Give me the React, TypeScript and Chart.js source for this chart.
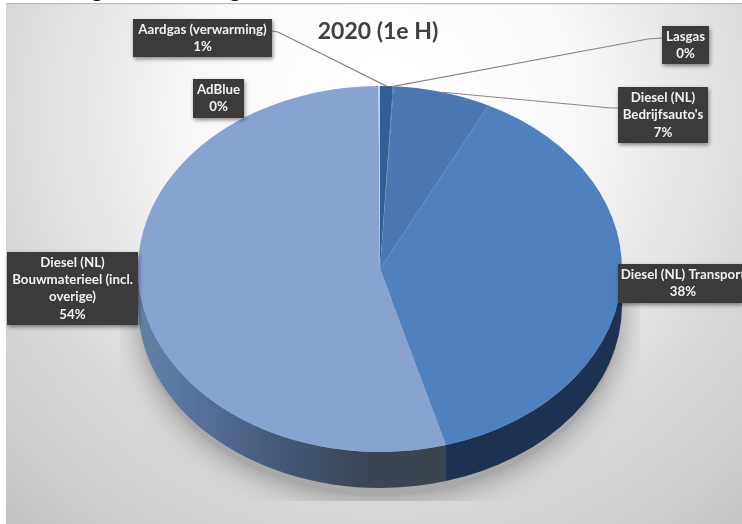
import React, { useEffect, useRef } from "react";
import { Chart, registerables } from "chart.js";

Chart.register(...registerables);

const chartTitle = "2020 (1e H)";
const categories = [
  "Aardgas (verwarming)",
  "Lasgas",
  "Diesel (NL) Bedrijfsauto's",
  "Diesel (NL) Transport",
  "Diesel (NL) Bouwmaterieel (incl. overige)",
  "AdBlue",
];
const values = [0.85, 0.05, 6.5, 38.2, 54.3, 0.1];
const labelLines = [
  ["Aardgas (verwarming)"],
  ["Lasgas"],
  ["Diesel (NL)", "Bedrijfsauto's"],
  ["Diesel (NL) Transport"],
  ["Diesel (NL)", "Bouwmaterieel (incl.", "overige)"],
  ["AdBlue"],
];
const topColors = ["#2F5F96", "#2F5F96", "#4A78B3", "#4F81BE", "#87A3D1", "#BCD0E8"];
const sideColors = ["#1C324F", "#1C324F", "#1C324F", "#1C3250", "#3A4450", "#3A4450"];

// label box layout
const labelBoxes = [
  { x: 133, y: 19, w: 139, h: 38, elbow: [278, 32], from: [272, 31] },
  { x: 662, y: 26, w: 47, h: 38, elbow: [648, 39], from: [662, 38] },
  { x: 618, y: 87, w: 90, h: 56, elbow: [611, 108], from: [618, 108] },
  { x: 618, y: 264, w: 124, h: 39, textCx: 683 },
  { x: 7, y: 252, w: 131, h: 73 },
  { x: 193, y: 79, w: 51, h: 39 },
];

const FLATTEN = 0.756;
const DEPTH = 36;
const LABEL_FONT = "bold 13.3px Lato";

const scenePlugin = {
  id: "scene",
  beforeDraw(chart: any) {
    const { ctx, width, height } = chart;
    ctx.save();
    ctx.fillStyle = "#ffffff";
    ctx.fillRect(0, 0, width, height);
    const g = ctx.createRadialGradient(385, 110, 40, 385, 110, 600);
    g.addColorStop(0, "#ffffff");
    g.addColorStop(0.28, "#f8f8f8");
    g.addColorStop(0.62, "#d8d8d8");
    g.addColorStop(0.8, "#cecece");
    g.addColorStop(1, "#bcbcbc");
    ctx.fillStyle = g;
    ctx.fillRect(6, 4, width - 6, height - 4);
    ctx.fillStyle = "#bdbdbd";
    ctx.fillRect(6, 3, width - 6, 1.2);

    // clipped heading above the chart: only descenders show
    ctx.fillStyle = "#111111";
    ctx.font = "bold 21px Lato";
    ctx.textAlign = "center";
    ctx.textBaseline = "alphabetic";
    ctx.fillText("g", 97, -3);
    ctx.fillText("g", 235, -3);
    ctx.restore();
  },
  beforeDatasetsDraw(chart: any) {
    const { ctx } = chart;
    const arcs = chart.getDatasetMeta(0).data;
    const { x: cx, y: cy, outerRadius: rx } = arcs[0];
    const ry = rx * FLATTEN;

    // soft ground shadow, cut off by a rectangle
    ctx.save();
    ctx.beginPath();
    ctx.rect(120, 300, 520, 201);
    ctx.clip();
    ctx.shadowColor = "rgba(110,110,110,0.8)";
    ctx.shadowBlur = 30;
    ctx.fillStyle = "#a9a9a9";
    ctx.beginPath();
    ctx.ellipse(cx, cy + DEPTH + 8, rx - 2, ry, 0, 0, Math.PI * 2);
    ctx.fill();
    ctx.restore();

    // extruded side wall, built from the arc elements' own angles
    arcs.forEach((arc: any, i: number) => {
      const a0 = Math.max(arc.startAngle, 0);
      const a1 = Math.min(arc.endAngle, Math.PI);
      if (a1 <= a0) return;
      ctx.save();
      if (i === 4) {
        const g = ctx.createLinearGradient(cx - rx, 0, cx + 60, 0);
        g.addColorStop(0, "#64809F");
        g.addColorStop(0.1, "#5D7AA6");
        g.addColorStop(0.45, "#465A7A");
        g.addColorStop(0.75, "#3A4555");
        g.addColorStop(1, "#3B444F");
        ctx.fillStyle = g;
      } else {
        ctx.fillStyle = sideColors[i];
      }
      ctx.beginPath();
      ctx.ellipse(cx, cy, rx, ry, 0, a0, a1);
      ctx.ellipse(cx, cy + DEPTH, rx, ry, 0, a1, a0, true);
      ctx.closePath();
      ctx.fill();
      ctx.restore();
    });

    // flatten the library's arcs into the perspective ellipse
    ctx.save();
    ctx.translate(cx, cy);
    ctx.scale(1, FLATTEN);
    ctx.translate(-cx, -cy);
  },
  afterDatasetsDraw(chart: any) {
    const { ctx } = chart;
    ctx.restore();
    const arcs = chart.getDatasetMeta(0).data;
    const { x: cx, y: cy, outerRadius: rx } = arcs[0];
    const ry = rx * FLATTEN;

    // leader lines
    ctx.save();
    ctx.strokeStyle = "#8c857c";
    ctx.lineWidth = 1.2;
    labelBoxes.forEach((box: any, i: number) => {
      if (!box.elbow) return;
      const mid = (arcs[i].startAngle + arcs[i].endAngle) / 2;
      ctx.beginPath();
      ctx.moveTo(box.from[0], box.from[1]);
      ctx.lineTo(box.elbow[0], box.elbow[1]);
      ctx.lineTo(cx + rx * Math.cos(mid), cy + ry * Math.sin(mid));
      ctx.stroke();
    });
    ctx.restore();

    // data labels
    labelBoxes.forEach((box: any, i: number) => {
      ctx.save();
      ctx.shadowColor = "rgba(0,0,0,0.45)";
      ctx.shadowBlur = 4;
      ctx.shadowOffsetX = 1;
      ctx.shadowOffsetY = 2;
      ctx.fillStyle = "#3B3B3B";
      ctx.fillRect(box.x, box.y, box.w, box.h);
      ctx.restore();

      const lines = [...labelLines[i], `${Math.round(values[i])}%`];
      const lh = 17.3;
      const textCx = box.textCx ?? box.x + box.w / 2;
      const top = box.y + box.h / 2 - ((lines.length - 1) * lh) / 2;
      ctx.save();
      ctx.fillStyle = "#F2F2F2";
      ctx.font = LABEL_FONT;
      ctx.textAlign = "center";
      ctx.textBaseline = "middle";
      lines.forEach((t, k) => ctx.fillText(t, textCx, top + k * lh));
      ctx.restore();
    });

    // title
    ctx.save();
    ctx.fillStyle = "#404040";
    ctx.font = "bold 23px Lato";
    ctx.textAlign = "center";
    ctx.textBaseline = "middle";
    ctx.fillText(chartTitle, 378, 32);
    ctx.restore();
  },
};

export default function App() {
  const ref = useRef<HTMLCanvasElement>(null);
  useEffect(() => {
    const chart = new Chart(ref.current as HTMLCanvasElement, {
      type: "pie",
      data: {
        labels: categories,
        datasets: [
          {
            data: values,
            backgroundColor: topColors,
            borderWidth: 0,
          },
        ],
      },
      options: {
        animation: false,
        responsive: false,
        layout: { padding: { left: 138, right: 120, top: 27, bottom: 13 } },
        plugins: {
          legend: { display: false },
          tooltip: { enabled: false },
          title: { display: false },
        },
      },
      plugins: [scenePlugin],
    } as any);
    return () => chart.destroy();
  }, []);
  return (
    <div style={{ position: "fixed", left: 0, top: 0, width: 742, height: 524, overflow: "hidden" }}>
      <canvas ref={ref} width={742} height={524} style={{ display: "block", filter: "blur(0.4px)" }} />
    </div>
  );
}
